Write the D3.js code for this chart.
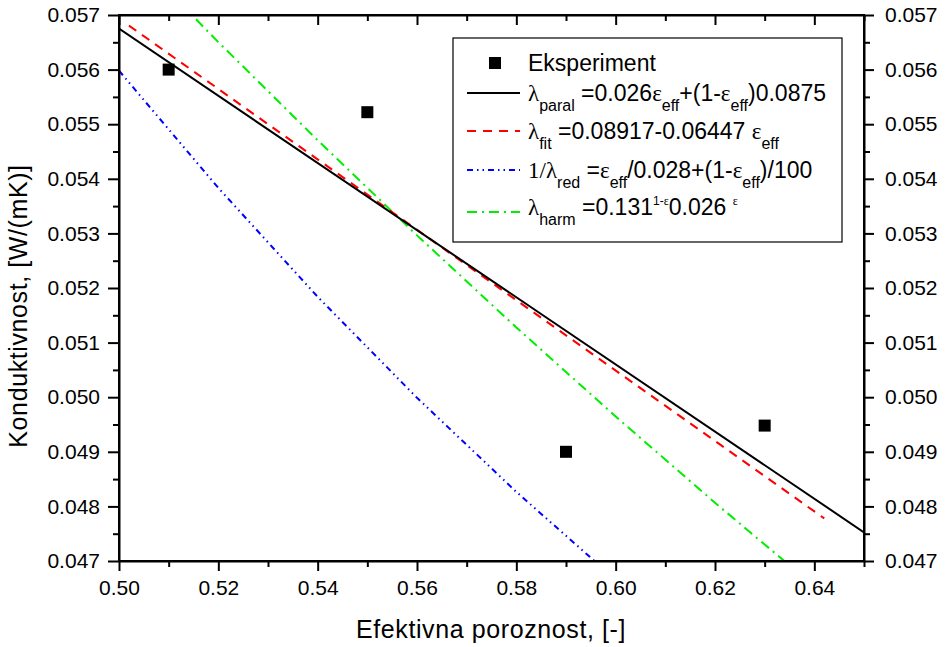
<!DOCTYPE html>
<html><head><meta charset="utf-8">
<script src="https://cdn.jsdelivr.net/npm/d3@7"></script>
<style>body{margin:0;background:#fff}svg{font-family:"Liberation Sans",Arial,sans-serif}</style>
</head><body><svg id="c" width="948" height="647"></svg>
<script>
const expX = [0.51, 0.55, 0.59, 0.63];
const expY = [0.0560, 0.05522, 0.0490, 0.04948];
const paralX = [0.50, 0.65];
const paralY = [0.05675, 0.047525];
const fitX = [0.502, 0.642];
const fitY = [0.056806, 0.047780];
const redX = [0.50, 0.52, 0.54, 0.56, 0.58, 0.60];
const redY = [0.05598, 0.053833, 0.051839, 0.049989, 0.048266, 0.046657];
const harmX = [0.50, 0.52, 0.54, 0.56, 0.58, 0.60, 0.62, 0.64];
const harmY = [0.05836, 0.056504, 0.054706, 0.052964, 0.051278, 0.049647, 0.048067, 0.046537];
const xTicks = [0.50, 0.52, 0.54, 0.56, 0.58, 0.60, 0.62, 0.64];
const yTicks = [0.047, 0.048, 0.049, 0.050, 0.051, 0.052, 0.053, 0.054, 0.055, 0.056, 0.057];

const svg = d3.select("#c");
const L = 119, R = 864, T = 15, B = 561;
const x = d3.scaleLinear().domain([0.50, 0.65]).range([L, R]);
const y = d3.scaleLinear().domain([0.047, 0.057]).range([B, T]);

svg.append("defs").append("clipPath").attr("id", "clip")
  .append("rect").attr("x", L).attr("y", T).attr("width", R - L).attr("height", B - T);

const g = svg.append("g").attr("clip-path", "url(#clip)");
const line = d3.line().x(d => x(d[0])).y(d => y(d[1]));
function series(X, Y, color, dash) {
  g.append("path").datum(X.map((v, i) => [v, Y[i]]))
    .attr("d", line).attr("fill", "none").attr("stroke", color)
    .attr("stroke-width", 2).attr("stroke-dasharray", dash);
}
series(redX, redY, "#0000ff", "6,4,1.5,4,1.5,4");
series(harmX, harmY, "#00ee00", "10,5,2,5");
series(fitX, fitY, "#ff0000", "9,7");
series(paralX, paralY, "#000000", null);

svg.append("g").selectAll("rect").data(expX.map((v, i) => [v, expY[i]])).join("rect")
  .attr("x", d => x(d[0]) - 6).attr("y", d => y(d[1]) - 6).attr("width", 12).attr("height", 12).attr("fill", "#000");

const fmt2 = d3.format(".2f"), fmt3 = d3.format(".3f");
function styleAxis(sel) {
  sel.select(".domain").attr("stroke-width", 2);
  sel.selectAll(".tick line").attr("stroke-width", 2);
  sel.selectAll("text").attr("font-size", 21).attr("fill", "#000");
}
const xMinor = d3.range(0.51, 0.651, 0.02);
const yMinor = d3.range(0.0475, 0.0571, 0.001);
const minorStyle = s => { s.select(".domain").remove(); s.selectAll("line").attr("stroke-width", 2); };

const bx = svg.append("g").attr("transform", `translate(0,${B})`)
  .call(d3.axisBottom(x).tickValues(xTicks).tickFormat(fmt2).tickSize(10).tickSizeOuter(0).tickPadding(9));
styleAxis(bx);
svg.append("g").attr("transform", `translate(0,${B})`)
  .call(d3.axisBottom(x).tickValues(xMinor).tickFormat("").tickSize(6).tickSizeOuter(0)).call(minorStyle);

const tx = svg.append("g").attr("transform", `translate(0,${T})`)
  .call(d3.axisBottom(x).tickValues(xTicks).tickFormat("").tickSize(10).tickSizeOuter(0));
styleAxis(tx);
svg.append("g").attr("transform", `translate(0,${T})`)
  .call(d3.axisBottom(x).tickValues(xMinor).tickFormat("").tickSize(6).tickSizeOuter(0)).call(minorStyle);

const ly = svg.append("g").attr("transform", `translate(${L},0)`)
  .call(d3.axisLeft(y).tickValues(yTicks).tickFormat(fmt3).tickSize(11).tickSizeOuter(0).tickPadding(8));
styleAxis(ly);
svg.append("g").attr("transform", `translate(${L},0)`)
  .call(d3.axisLeft(y).tickValues(yMinor).tickFormat("").tickSize(6).tickSizeOuter(0)).call(minorStyle);

const ry = svg.append("g").attr("transform", `translate(${R},0)`)
  .call(d3.axisRight(y).tickValues(yTicks).tickFormat(fmt3).tickSize(10).tickSizeOuter(0).tickPadding(11));
styleAxis(ry);
svg.append("g").attr("transform", `translate(${R},0)`)
  .call(d3.axisRight(y).tickValues(yMinor).tickFormat("").tickSize(6).tickSizeOuter(0)).call(minorStyle);

svg.append("rect").attr("x", L).attr("y", T).attr("width", R - L).attr("height", B - T)
  .attr("fill", "none").attr("stroke", "#000").attr("stroke-width", 2);

// titles
svg.append("text").attr("x", 491).attr("y", 638).attr("text-anchor", "middle")
  .attr("font-size", 25).attr("letter-spacing", 0.6).text("Efektivna poroznost, [-]");
svg.append("text").attr("transform", `translate(27,306) rotate(-90)`).attr("text-anchor", "middle")
  .attr("font-size", 25).attr("letter-spacing", 0.6).text("Konduktivnost, [W/(mK)]");

// legend
const lg = svg.append("g");
lg.append("rect").attr("x", 453).attr("y", 38).attr("width", 389).attr("height", 204)
  .attr("fill", "#fff").attr("stroke", "#000").attr("stroke-width", 1.2);
lg.append("rect").attr("x", 489).attr("y", 57).attr("width", 12).attr("height", 12).attr("fill", "#000");
const rows = [
  {y: 93, c: "#000", d: null},
  {y: 131, c: "#ff0000", d: "9,7"},
  {y: 170, c: "#0000ff", d: "6,4,1.5,4,1.5,4"},
  {y: 212, c: "#00ee00", d: "10,5,2,5"}
];
rows.forEach(r => lg.append("line").attr("x1", 467).attr("x2", 520).attr("y1", r.y).attr("y2", r.y)
  .attr("stroke", r.c).attr("stroke-width", 2).attr("stroke-dasharray", r.d));

const fs = 23, sub = 16, sup = 12, dS = 10, dP = 10;
const serif = "Liberation Serif";
function T1(yy) { return lg.append("text").attr("x", 528).attr("y", yy).attr("font-size", fs); }
function s(t, txt, opts = {}) {
  const sp = t.append("tspan").text(txt);
  if (opts.serif) sp.attr("font-family", serif);
  if (opts.size) sp.attr("font-size", opts.size);
  if (opts.dy) sp.attr("dy", opts.dy);
  return sp;
}
T1(71).text("Eksperiment");
let t = T1(101);
s(t, "λ", {serif: 1});
s(t, "paral", {size: sub, dy: dS});
s(t, " =0.026", {dy: -dS});
s(t, "ε", {serif: 1});
s(t, "eff", {size: sub, dy: dS});
s(t, "+(1-", {dy: -dS});
s(t, "ε", {serif: 1});
s(t, "eff", {size: sub, dy: dS});
s(t, ")0.0875", {dy: -dS});

t = T1(139);
s(t, "λ", {serif: 1});
s(t, "fit", {size: sub, dy: dS});
s(t, " =0.08917-0.06447 ", {dy: -dS});
s(t, "ε", {serif: 1});
s(t, "eff", {size: sub, dy: dS});

t = T1(178);
s(t, "1/λ", {serif: 1});
s(t, "red", {size: sub, dy: dS});
s(t, " =", {dy: -dS});
s(t, "ε", {serif: 1});
s(t, "eff", {size: sub, dy: dS});
s(t, "/0.028+(1-", {dy: -dS});
s(t, "ε", {serif: 1});
s(t, "eff", {size: sub, dy: dS});
s(t, ")/100", {dy: -dS});

t = T1(215);
s(t, "λ", {serif: 1});
s(t, "harm", {size: sub, dy: dS});
s(t, " =0.131", {dy: -dS});
s(t, "1-", {size: sup, dy: -dP});
s(t, "ε", {size: sup, serif: 1});
s(t, "0.026 ", {dy: dP});
s(t, "ε", {size: sup, serif: 1, dy: -dP});
</script></body></html>
